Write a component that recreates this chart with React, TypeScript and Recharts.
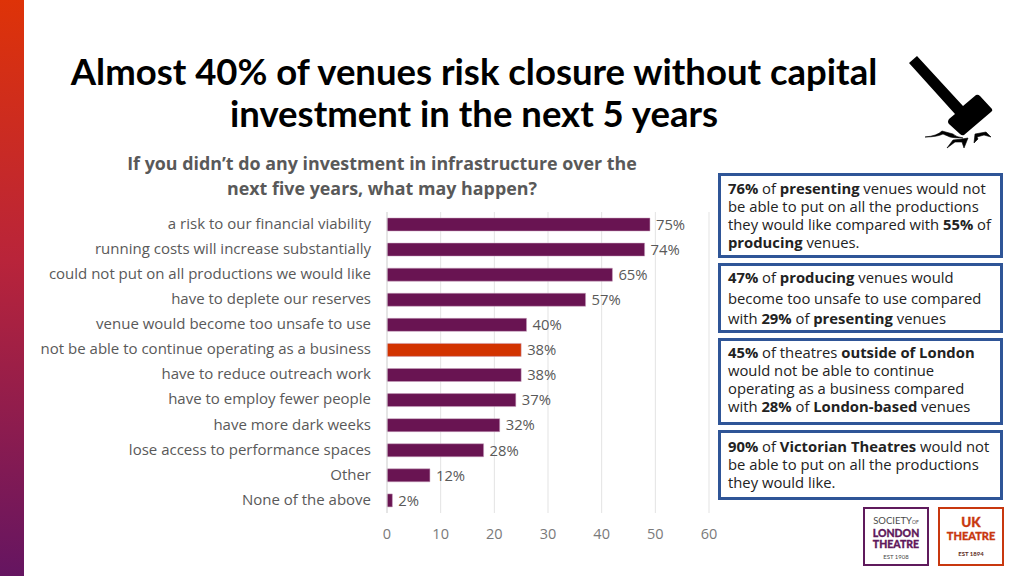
import { BarChart, Bar, XAxis, YAxis, CartesianGrid, Cell, LabelList } from "recharts"

const CATEGORIES = [
  "a risk to our financial viability",
  "running costs will increase substantially",
  "could not put on all productions we would like",
  "have to deplete our reserves",
  "venue would become too unsafe to use",
  "not be able to continue operating as a business",
  "have to reduce outreach work",
  "have to employ fewer people",
  "have more dark weeks",
  "lose access to performance spaces",
  "Other",
  "None of the above",
]
// bar lengths read against the printed axis (the printed % labels do not match it)
const VALUES = [49, 48, 42, 37, 26, 25, 25, 24, 21, 18, 8, 1]
const BAR_LABELS = ["75%", "74%", "65%", "57%", "40%", "38%", "38%", "37%", "32%", "28%", "12%", "2%"]
const HIGHLIGHT = "not be able to continue operating as a business"
const X_TICKS = [0, 10, 20, 30, 40, 50, 60]

const data = CATEGORIES.map((name, i) => ({ name, value: VALUES[i], label: BAR_LABELS[i] }))

const PURPLE = "#691452"
const RED = "#d23300"
const GREY = "#595959"
const BODY_FONT = "'Open Sans', sans-serif"

function Box({ top, height, lineHeight, padTop = 3, children }: any) {
  return (
    <div
      style={{
        position: "absolute", left: 718, top, width: 285, height,
        boxSizing: "border-box", border: "3px solid #2f5597", background: "#fff",
        padding: `${padTop}px 0 0 7px`, fontFamily: BODY_FONT, fontSize: 14.8,
        lineHeight: lineHeight + "px", color: "#222", whiteSpace: "nowrap",
      }}
    >
      {children}
    </div>
  )
}

function Logo({ left, color, children }: any) {
  return (
    <div
      style={{
        position: "absolute", left, top: 507, width: 66, height: 59,
        boxSizing: "border-box", border: `2px solid ${color}`, background: "#fff",
        textAlign: "center", color, fontFamily: "Lato, sans-serif",
      }}
    >
      {children}
    </div>
  )
}

export default function App() {
  return (
    <div style={{ position: "absolute", left: 0, top: 0, width: 1024, height: 576, background: "#fff", overflow: "hidden" }}>
      <div
        style={{
          position: "absolute", left: 0, top: 0, width: 24, height: 576,
          background: "linear-gradient(180deg, #de3308 0%, #b9243a 45%, #651561 100%)",
        }}
      />

      <div
        style={{
          position: "absolute", left: 40, top: 50, width: 868, textAlign: "center",
          fontFamily: "Lato, sans-serif", fontWeight: 700, fontSize: 36.5, lineHeight: "42px", color: "#000",
        }}
      >
        Almost 40% of venues risk closure without capital
        <br />
        investment in the next 5 years
      </div>

      <div
        style={{
          position: "absolute", left: 82, top: 151, width: 600, textAlign: "center",
          fontFamily: BODY_FONT, fontWeight: 700, fontSize: 17.85, lineHeight: "25px", color: GREY,
        }}
      >
        If you didn’t do any investment in infrastructure over the
        <br />
        next five years, what may happen?
      </div>

      <div style={{ position: "absolute", left: 0, top: 0 }}>
        <BarChart
          width={1024}
          height={576}
          data={data}
          layout="vertical"
          barSize={13}
          margin={{ top: 212, right: 315, bottom: 0, left: 0 }}
          style={{ fontFamily: BODY_FONT }}
        >
          <CartesianGrid horizontal={false} stroke="#e3e3e3" strokeWidth={1} />
          <XAxis
            type="number"
            domain={[0, 60]}
            ticks={X_TICKS}
            height={63}
            axisLine={false}
            tickLine={false}
            tickMargin={10}
            tick={{ fill: "#7a7a7a", fontSize: 14.5 }}
          />
          <YAxis
            type="category"
            dataKey="name"
            width={387}
            interval={0}
            axisLine={{ stroke: "#d9d9d9" }}
            tickLine={false}
            tickMargin={10}
            tick={{ fill: GREY, fontSize: 15, dy: -1 }}
          />
          <Bar dataKey="value" isAnimationActive={false} stroke="#c9a3bf" strokeWidth={0.5}>
            {data.map((d) => (
              <Cell key={d.name} fill={d.name === HIGHLIGHT ? RED : PURPLE} />
            ))}
            <LabelList dataKey="label" position="right" offset={6} fill={GREY} fontSize={14.8} />
          </Bar>
        </BarChart>
      </div>

      <Box top={173} height={85} lineHeight={18}>
        <b>76%</b> of <b>presenting</b> venues would not<br />
        be able to put on all the productions<br />
        they would like compared with <b>55%</b> of<br />
        <b>producing</b> venues.
      </Box>
      <Box top={263} height={70} lineHeight={20.5} padTop={1}>
        <b>47%</b> of <b>producing</b> venues would<br />
        become too unsafe to use compared<br />
        with <b>29%</b> of <b>presenting</b> venues
      </Box>
      <Box top={338} height={87} lineHeight={18} padTop={2}>
        <b>45%</b> of theatres <b>outside of London</b><br />
        would not be able to continue<br />
        operating as a business compared<br />
        with <b>28%</b> of <b>London-based</b> venues
      </Box>
      <Box top={430} height={70} lineHeight={18} padTop={4}>
        <b>90%</b> of <b>Victorian Theatres</b> would not<br />
        be able to put on all the productions<br />
        they would like.
      </Box>

      <svg width={120} height={120} style={{ position: "absolute", left: 890, top: 40 }}>
        <path d="M19 23 L27 16 L73 66 L86 55 Q88 54 90 56 L102 69 Q103 71 101 72 L74 95 Q72 96 70 94 L59 84 Q57 82 59 79 L65 74 Z" fill="#000" />
        <path
          d="M35 97 Q47 96 52 91 L63 94 Q66 97 73 98 Q64 98 60 97 L53 94 Q47 97 35 97 Z M57 108 L63 100 L72 99 L78 98 L74 108 L72 102 L65 102 Z M84 103 L85 94 L96 92 L101 97 L94 95 L87 97 L88 99 L84 103 Z"
          fill="#000"
          stroke="#000"
          strokeWidth={0.6}
        />
      </svg>

      <Logo left={863} color="#5f1a5c">
        <div style={{ fontSize: 9.5, marginTop: 6, lineHeight: "11px", color: "#4a4a4a" }}>SOCIETY<span style={{ fontSize: 5 }}>OF</span></div>
        <div style={{ fontSize: 10.5, fontWeight: 900, lineHeight: "10.5px", WebkitTextStroke: "0.3px" }}>LONDON<br />THEATRE</div>
        <div style={{ fontSize: 6, marginTop: 4, color: "#4a4a4a" }}>EST 1908</div>
      </Logo>
      <Logo left={938} color="#c8380f">
        <div style={{ fontSize: 13.5, fontWeight: 900, marginTop: 7, lineHeight: "13px", WebkitTextStroke: "0.3px" }}>UK</div>
        <div style={{ fontSize: 11, fontWeight: 900, lineHeight: "13px", WebkitTextStroke: "0.3px" }}>THEATRE</div>
        <div style={{ fontSize: 6, fontWeight: 700, marginTop: 8, color: "#5b2a1a" }}>EST 1894</div>
      </Logo>
    </div>
  )
}
